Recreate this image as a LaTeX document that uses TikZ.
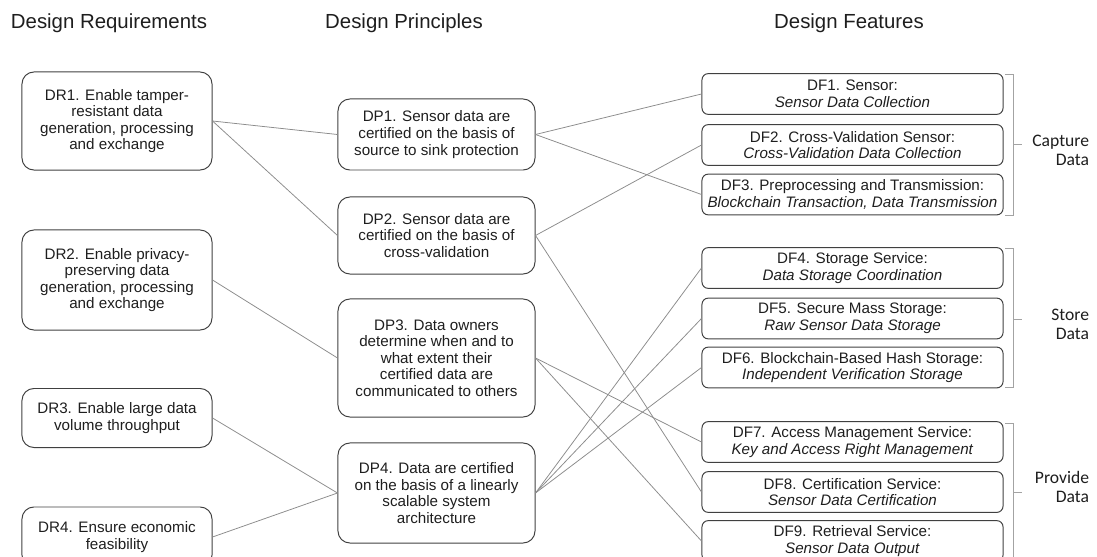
\documentclass[tikz,border=0pt]{standalone}
\usepackage{fontspec}
\setmainfont{Liberation Sans}
\newfontfamily\calibri{Carlito}
\definecolor{boxgray}{HTML}{404040}
\definecolor{linkgray}{HTML}{8C8C8C}
\definecolor{txt}{HTML}{1E1E1E}
\tikzset{
	head/.style={font=\fontsize{14.5}{16}\selectfont, text=txt},
	req/.style={draw=boxgray, line width=0.7pt, rounded corners=8.5pt, align=center, inner sep=0pt, minimum width=4.75cm, font=\fontsize{10.8}{11.8}\selectfont, text=txt},
	prin/.style={req, minimum width=4.925cm},
	feat/.style={req, rounded corners=4.5pt, minimum width=7.525cm, minimum height=1.02cm},
	link/.style={draw=linkgray, line width=0.55pt},
	brk/.style={draw=linkgray!80, line width=0.55pt},
	group/.style={anchor=east, align=right, font=\calibri\fontsize{12.5}{13.5}\selectfont, text=txt}
}
\begin{document}
\begin{tikzpicture}[x=0.025cm,y=-0.025cm]
		\useasboundingbox (0,0) rectangle (1097,557);
		\clip (0,0) rectangle (1097,557);
		\node[head] (hr) at (109,23) {Design Requirements};
		\node[head] (hp) at (404,23) {Design Principles};
		\node[head] (hf) at (849,23) {Design Features};

		\node[req, minimum height=2.45cm] (dr1) at (117,121) {DR1. Enable tamper-\\resistant data\\generation, processing\\and exchange};
		\node[req, minimum height=2.5cm] (dr2) at (117,280) {DR2. Enable privacy-\\preserving data\\generation, processing\\and exchange};
		\node[req, minimum height=1.475cm] (dr3) at (117,418) {DR3. Enable large data\\volume throughput};
		\node[req, minimum height=1.5cm] (dr4) at (117,537) {DR4. Ensure economic\\feasibility};

		\node[prin, minimum height=1.775cm] (dp1) at (436.5,134.5) {DP1. Sensor data are\\certified on the basis of\\source to sink protection};
		\node[prin, minimum height=1.925cm] (dp2) at (436.5,235.5) {DP2. Sensor data are\\certified on the basis of\\cross-validation};
		\node[prin, minimum height=2.95cm] (dp3) at (436.5,358) {DP3. Data owners\\determine when and to\\what extent their\\certified data are\\communicated to others};
		\node[prin, minimum height=2.5cm] (dp4) at (436.5,493) {DP4. Data are certified\\on the basis of a linearly\\scalable system\\architecture};

		\node[feat] (df1) at (852.5,94) {DF1. Sensor:\\\textit{Sensor Data Collection}};
		\node[feat] (df2) at (852.5,145) {DF2. Cross-Validation Sensor:\\\textit{Cross-Validation Data Collection}};
		\node[feat] (df3) at (852.5,194.5) {DF3. Preprocessing and Transmission:\\\textit{Blockchain Transaction, Data Transmission}};
		\node[feat] (df4) at (852.5,268) {DF4. Storage Service:\\\textit{Data Storage Coordination}};
		\node[feat] (df5) at (852.5,318.5) {DF5. Secure Mass Storage:\\\textit{Raw Sensor Data Storage}};
		\node[feat] (df6) at (852.5,367.5) {DF6. Blockchain-Based Hash Storage:\\\textit{Independent Verification Storage}};
		\node[feat] (df7) at (852.5,442) {DF7. Access Management Service:\\\textit{Key and Access Right Management}};
		\node[feat] (df8) at (852.5,492) {DF8. Certification Service:\\\textit{Sensor Data Certification}};
		\node[feat] (df9) at (852.5,541) {DF9. Retrieval Service:\\\textit{Sensor Data Output}};

		\draw[link] (dr1.east) -- (dp1.west);
		\draw[link] (dr1.east) -- (dp2.west);
		\draw[link] (dr2.east) -- (dp3.west);
		\draw[link] (dr3.east) -- (dp4.west);
		\draw[link] (dr4.east) -- (dp4.west);

		\draw[link] (dp1.east) -- (df1.west);
		\draw[link] (dp1.east) -- (df3.west);
		\draw[link] (dp2.east) -- (df2.west);
		\draw[link] (dp2.east) -- (df8.west);
		\draw[link] (dp3.east) -- (df7.west);
		\draw[link] (dp3.east) -- (df9.west);
		\draw[link] (dp4.east) -- (df4.west);
		\draw[link] (dp4.east) -- (df5.west);
		\draw[link] (dp4.east) -- (df6.west);

		\draw[brk] (1005,74) -| (1013,215) -- (1005,215);
		\draw[brk] (1013,144.5) -- (1022,144.5);
		\node[group] (capture) at (1094,150) {Capture\\Data};
		\draw[brk] (1005,248) -| (1013,387) -- (1005,387);
		\draw[brk] (1013,319) -- (1022,319);
		\node[group] (store) at (1094,324) {Store\\Data};
		\draw[brk] (1005,423) -| (1013,575);
		\draw[brk] (1013,492) -- (1022,492);
		\node[group] (provide) at (1094,487) {Provide\\Data};
	\end{tikzpicture}
\end{document}
